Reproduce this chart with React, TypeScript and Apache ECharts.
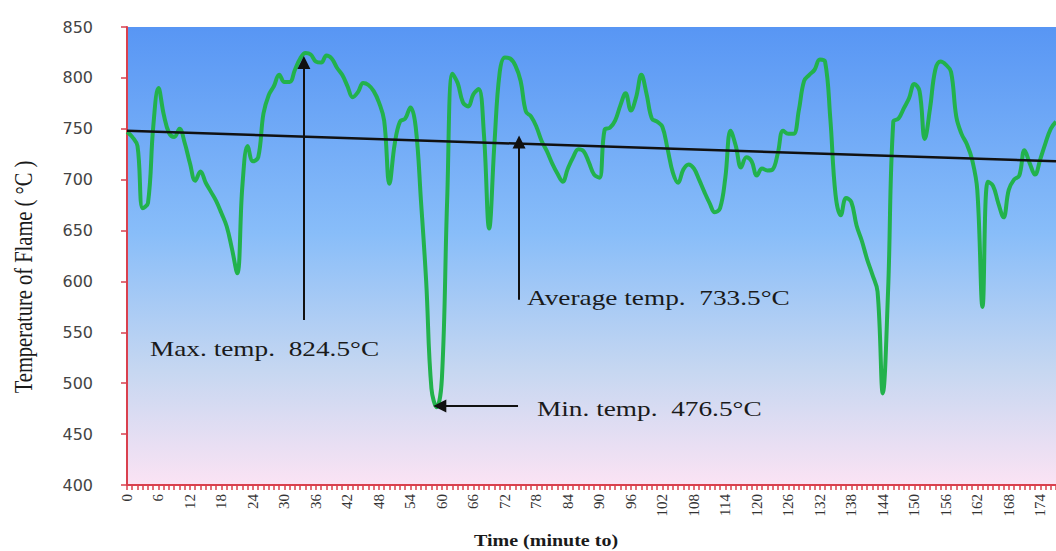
import React, { useEffect, useRef } from "react";
import * as echarts from "echarts";

// Flame temperature (°C) read at every minute, index = minute 0..177
const temps: number[] = [
  747, 742, 733, 672, 677, 752, 790, 764, 746, 742,
  750, 736, 716, 699, 708, 697, 688, 679, 667, 654,
  632, 608, 695, 733, 718, 722, 765, 783, 792, 803,
  796, 796, 808, 819, 824.5, 823, 816, 815, 822, 819,
  810, 803, 792, 781, 786, 795, 793, 787, 776, 758,
  696, 735, 757, 760, 771, 752, 680, 600, 495, 476.5,
  505, 680, 804, 795, 776, 772, 784, 789, 745, 652,
  735, 805, 820, 819, 812, 797, 767, 762, 752, 738,
  728, 716, 706, 698, 711, 722, 730, 728, 717, 705,
  702, 749, 751, 758, 773, 785, 768, 781, 803, 784,
  760, 757, 752, 730, 707, 697, 710, 715, 711, 700,
  688, 677, 668, 672, 702, 748, 733, 712, 722, 718,
  704, 711, 709, 710, 726, 748, 745, 745, 768, 797,
  803, 808, 818, 816, 760, 685, 665, 682, 678, 655,
  640, 622, 607, 590, 490, 590, 757, 760, 770, 780,
  794, 787, 740, 770, 808, 816, 813, 806, 762, 745,
  735, 720, 690, 575, 698, 694, 677, 663, 690, 700,
  704, 729, 716, 705, 720, 736, 750, 757,
];

// linear trend line (average) end points: [minute, °C]
const trendPoints: number[][] = [
  [0, 748],
  [177, 718],
];

// annotation arrows in data units: [fromMinute, fromTemp, toMinute, toTemp]
const maxArrow = [33.7, 562, 33.7, 815];
const avgArrow = [74.7, 582, 74.7, 737];
const minArrow = [74.5, 477.6, 59.6, 477.6];

const annotationTexts = [
  "Max. temp.  824.5°C",
  "Average temp.  733.5°C",
  "Min. temp.  476.5°C",
];

const xTitle = "Time (minute to)";
const yTitle = "Temperature of Flame ( °C )";

const RED = "#d9404e";

export default function App() {
  const ref = useRef<HTMLDivElement>(null);

  useEffect(() => {
    if (!ref.current) return;
    const chart = echarts.init(ref.current, undefined, { renderer: "svg" });

    const arrow = (a: number[]) => [
      { coord: [a[0], a[1]] },
      { coord: [a[2], a[3]] },
    ];

    const annFont = "21px Liberation Serif";

    chart.setOption({
      animation: false,
      backgroundColor: "#ffffff",
      grid: {
        left: 127,
        right: 0,
        top: 27,
        bottom: 66,
        show: true,
        borderWidth: 0,
        backgroundColor: new echarts.graphic.LinearGradient(0, 0, 0, 1, [
          { offset: 0, color: "#5896f4" },
          { offset: 0.45, color: "#88bdf9" },
          { offset: 0.75, color: "#c6d7f1" },
          { offset: 1, color: "#fbe3f4" },
        ]),
      },
      xAxis: {
        type: "value",
        min: 0,
        max: 177,
        interval: 1,
        axisLine: { show: true, lineStyle: { color: RED, width: 2 } },
        axisTick: { show: true, length: 5, lineStyle: { color: RED, width: 1.5 } },
        splitLine: { show: false },
        axisLabel: {
          rotate: 90,
          margin: 9,
          fontFamily: "Liberation Serif",
          fontSize: 15,
          color: "#333333",
          formatter: (v: number) => (v % 6 === 0 ? String(v) : ""),
        },
      },
      yAxis: {
        type: "value",
        min: 400,
        max: 850,
        interval: 50,
        axisLine: { show: true, lineStyle: { color: RED, width: 2 } },
        axisTick: { show: true, length: 6, lineStyle: { color: RED, width: 1.5 } },
        splitLine: { show: false },
        axisLabel: {
          margin: 34,
          fontFamily: "DejaVu Sans",
          fontSize: 16,
          color: "#444444",
        },
      },
      series: [
        {
          type: "line",
          data: temps.map((v, i) => [i, v]),
          smooth: 0.4,
          symbol: "none",
          lineStyle: { color: "#22b24c", width: 4 },
          z: 3,
        },
        {
          type: "line",
          data: trendPoints,
          symbol: "none",
          lineStyle: { color: "#111111", width: 2.5 },
          z: 4,
          markLine: {
            silent: true,
            symbol: ["none", "triangle"],
            symbolSize: [13, 13],
            lineStyle: { color: "#111111", width: 2, type: "solid" },
            label: { show: false },
            data: [arrow(maxArrow), arrow(avgArrow), arrow(minArrow)],
          },
        },
      ],
      graphic: [
        {
          type: "text",
          x: 150,
          y: 349,
          scaleX: 1.3,
          style: {
            text: annotationTexts[0],
            font: annFont,
            fill: "#1a1a1a",
            textAlign: "left",
            textVerticalAlign: "middle",
          },
        },
        {
          type: "text",
          x: 527,
          y: 298,
          scaleX: 1.3,
          style: {
            text: annotationTexts[1],
            font: annFont,
            fill: "#1a1a1a",
            textAlign: "left",
            textVerticalAlign: "middle",
          },
        },
        {
          type: "text",
          x: 537,
          y: 409,
          scaleX: 1.3,
          style: {
            text: annotationTexts[2],
            font: annFont,
            fill: "#1a1a1a",
            textAlign: "left",
            textVerticalAlign: "middle",
          },
        },
        {
          type: "text",
          x: 474,
          y: 541,
          scaleX: 1.25,
          style: {
            text: xTitle,
            font: "bold 16px Liberation Serif",
            fill: "#1a1a1a",
            textAlign: "left",
            textVerticalAlign: "middle",
          },
        },
        {
          type: "text",
          x: 23,
          y: 277,
          rotation: Math.PI / 2,
          scaleY: 1.25,
          style: {
            text: yTitle,
            font: "20.5px Liberation Serif",
            fill: "#1a1a1a",
            textAlign: "center",
            textVerticalAlign: "middle",
          },
        },
      ],
    });

    return () => chart.dispose();
  }, []);

  return (
    <div
      ref={ref}
      style={{ position: "absolute", left: 0, top: 0, width: 1056, height: 551 }}
    />
  );
}
